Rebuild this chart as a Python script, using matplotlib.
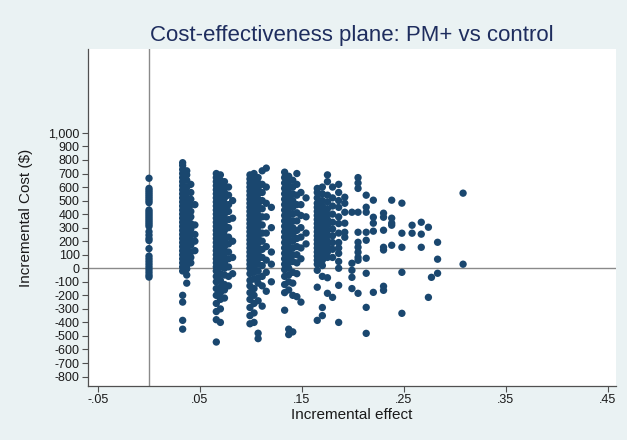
import matplotlib.pyplot as plt
from matplotlib.ticker import FuncFormatter

plt.rcParams['font.family'] = ['Liberation Sans', 'DejaVu Sans']

# incremental effect of each column of replicates, and the incremental costs
effect_cols = [0.0,
               0.033, 0.037, 0.041, 0.045,
               0.066, 0.070, 0.074, 0.078, 0.082,
               0.099, 0.103, 0.107, 0.111, 0.115, 0.120,
               0.133, 0.137, 0.141, 0.145, 0.149, 0.154,
               0.165, 0.170, 0.175, 0.180, 0.186, 0.192, 0.199,
               0.205, 0.213, 0.220, 0.230, 0.238, 0.248, 0.258,
               0.267, 0.274, 0.277, 0.283, 0.308]

cost_cols = [
    [665, 590, 575, 560, 545, 530, 515, 500, 485, 430, 415, 400, 385, 370, 355, 340,
     325, 310, 270, 245, 220, 205, 145, 90, 70, 50, 30, 10, -10, -30, -50, -65],
    [780, 760, 730, 700, 670, 640, 610, 580, 550, 520, 490, 460, 430, 400, 370, 340,
     310, 280, 250, 220, 190, 160, 130, 100, 70, 40, 10, -20, -200, -250, -385, -450],
    [720, 690, 650, 600, 560, 520, 480, 450, 410, 380, 350, 320, 290, 260, 230, 200,
     170, 140, 110, 80, 50, 20, -5, -50, -110],
    [620, 560, 510, 470, 420, 380, 330, 290, 250, 210, 170, 120, 80, 40],
    [470, 320, 250, 200, 130],
    [700, 670, 640, 610, 580, 550, 520, 490, 460, 430, 400, 370, 340, 310, 280, 250,
     220, 190, 160, 130, 100, 70, 40, 10, -20, -60, -100, -150, -200, -260, -320, -380, -545],
    [690, 650, 610, 570, 530, 490, 450, 410, 370, 330, 290, 250, 210, 170, 130, 90,
     50, 10, -40, -90, -140, -180, -230, -300, -400],
    [640, 600, 560, 520, 480, 440, 400, 360, 320, 280, 240, 200, 160, 120, 80, 40,
     0, -50, -120, -160, -220],
    [600, 540, 470, 420, 360, 300, 230, 180, 120, 70, 10, -60, -130],
    [500, 370, 200, 80, -40],
    [690, 660, 630, 600, 570, 540, 510, 480, 450, 420, 390, 360, 330, 300, 270, 240,
     210, 180, 150, 120, 90, 60, 30, 0, -40, -90, -130, -180, -230, -290, -350, -410],
    [700, 650, 610, 570, 530, 490, 450, 410, 370, 330, 290, 250, 210, 170, 130, 90,
     50, 10, -30, -80, -150, -200, -260, -330, -400],
    [670, 630, 590, 550, 510, 470, 430, 390, 350, 310, 270, 230, 190, 150, 110, 70,
     30, -20, -70, -110, -240, -480, -520],
    [720, 620, 560, 500, 440, 380, 320, 260, 200, 140, 80, 20, -60, -130, -280],
    [740, 600, 480, 380, 260, 160, 60, -30, -170],
    [450, 300, 120, 30, -100],
    [710, 670, 630, 590, 550, 510, 470, 430, 390, 350, 310, 270, 230, 190, 150, 110,
     70, 30, -10, -60, -120, -180, -310],
    [680, 640, 600, 560, 520, 480, 440, 400, 360, 320, 280, 240, 200, 160, 120, 80,
     40, 0, -50, -100, -160, -450, -490],
    [650, 600, 550, 500, 450, 400, 350, 300, 250, 200, 150, 100, 50, -30, -110, -200, -470],
    [700, 620, 540, 470, 410, 350, 280, 220, 160, 100, 40, -40, -210],
    [560, 470, 390, 300, 230, 150, 70, -250],
    [520, 380, 260, 180],
    [590, 560, 520, 480, 450, 420, 390, 360, 330, 300, 270, 240, 210, 180, 150, 120,
     90, 60, 30, -15, -140, -385],
    [600, 550, 500, 460, 420, 380, 340, 300, 260, 220, 180, 140, 100, 60, 20, -60, -290, -350],
    [690, 640, 540, 490, 440, 400, 360, 320, 280, 240, 200, 160, 120, 80, -70, -185],
    [600, 520, 460, 400, 340, 290, 240, 190, 140, 80, -215],
    [620, 560, 500, 450, 380, 330, 260, 190, 150, 110, 50, 0, -126, -400],
    [525, 480, 414, 333, 266, 229],
    [414, 37, -15, -67, -150],
    [670, 630, 590, 414, 266, 192, 155, 118, 80, 59, -185],
    [540, 451, 414, 266, 207, 74, -37, -289, -481],
    [503, 377, 333, 274, -178],
    [407, 377, 281, 155, 135, -133, -163],
    [503, 370, 333, 318, 170],
    [481, 259, 155, -30, -333],
    [318, 259],
    [340, 252, 155],
    [303, -215],
    [-67],
    [192, 67, -37],
    [555, 30],
]

x_ticks = [-0.05, 0.05, 0.15, 0.25, 0.35, 0.45]
y_ticks = list(range(-800, 1001, 100))

effect = []
cost = []
for ex, cs in zip(effect_cols, cost_cols):
    for c in cs:
        effect.append(ex)
        cost.append(c)

bg = '#eaf2f3'
fig = plt.figure(figsize=(6.27, 4.4), dpi=100, facecolor=bg)
ax = fig.add_axes([0.1404, 0.1227, 0.8421, 0.7659])
ax.set_facecolor('white')

ax.axvline(0, color='#8a8a8a', lw=1.0, zorder=1)
ax.axhline(0, color='#8a8a8a', lw=1.0, zorder=1)
ax.scatter(effect, cost, s=28, color='#1a476f', edgecolors='none', zorder=3)

ax.set_xlim(-0.0598, 0.458)
ax.set_ylim(-870, 1620)
ax.set_xticks(x_ticks)
ax.set_yticks(y_ticks)

def fmt_x(v, pos):
    s = '%.2f' % v
    return s.replace('0.', '.')

ax.xaxis.set_major_formatter(FuncFormatter(fmt_x))
ax.yaxis.set_major_formatter(FuncFormatter(lambda v, p: '{:,.0f}'.format(v)))

for side in ['top', 'right']:
    ax.spines[side].set_visible(False)
for side in ['left', 'bottom']:
    ax.spines[side].set_color('#505050')
    ax.spines[side].set_linewidth(0.9)

ax.tick_params(axis='both', direction='out', length=4, width=0.8, color='#505050',
               labelsize=9, labelcolor='#1a1a1a', pad=2)

ax.set_xlabel('Incremental effect', fontsize=11, color='#1a1a1a', labelpad=1)
ax.set_ylabel('Incremental Cost ($)', fontsize=11, color='#1a1a1a')
ax.yaxis.set_label_coords(-0.104, 0.5)

fig.text(0.5617, 0.92, 'Cost-effectiveness plane: PM+ vs control', ha='center', va='center',
         fontsize=16, color='#1e2d5e')

fig.savefig('out.png', dpi=100, facecolor=bg)
